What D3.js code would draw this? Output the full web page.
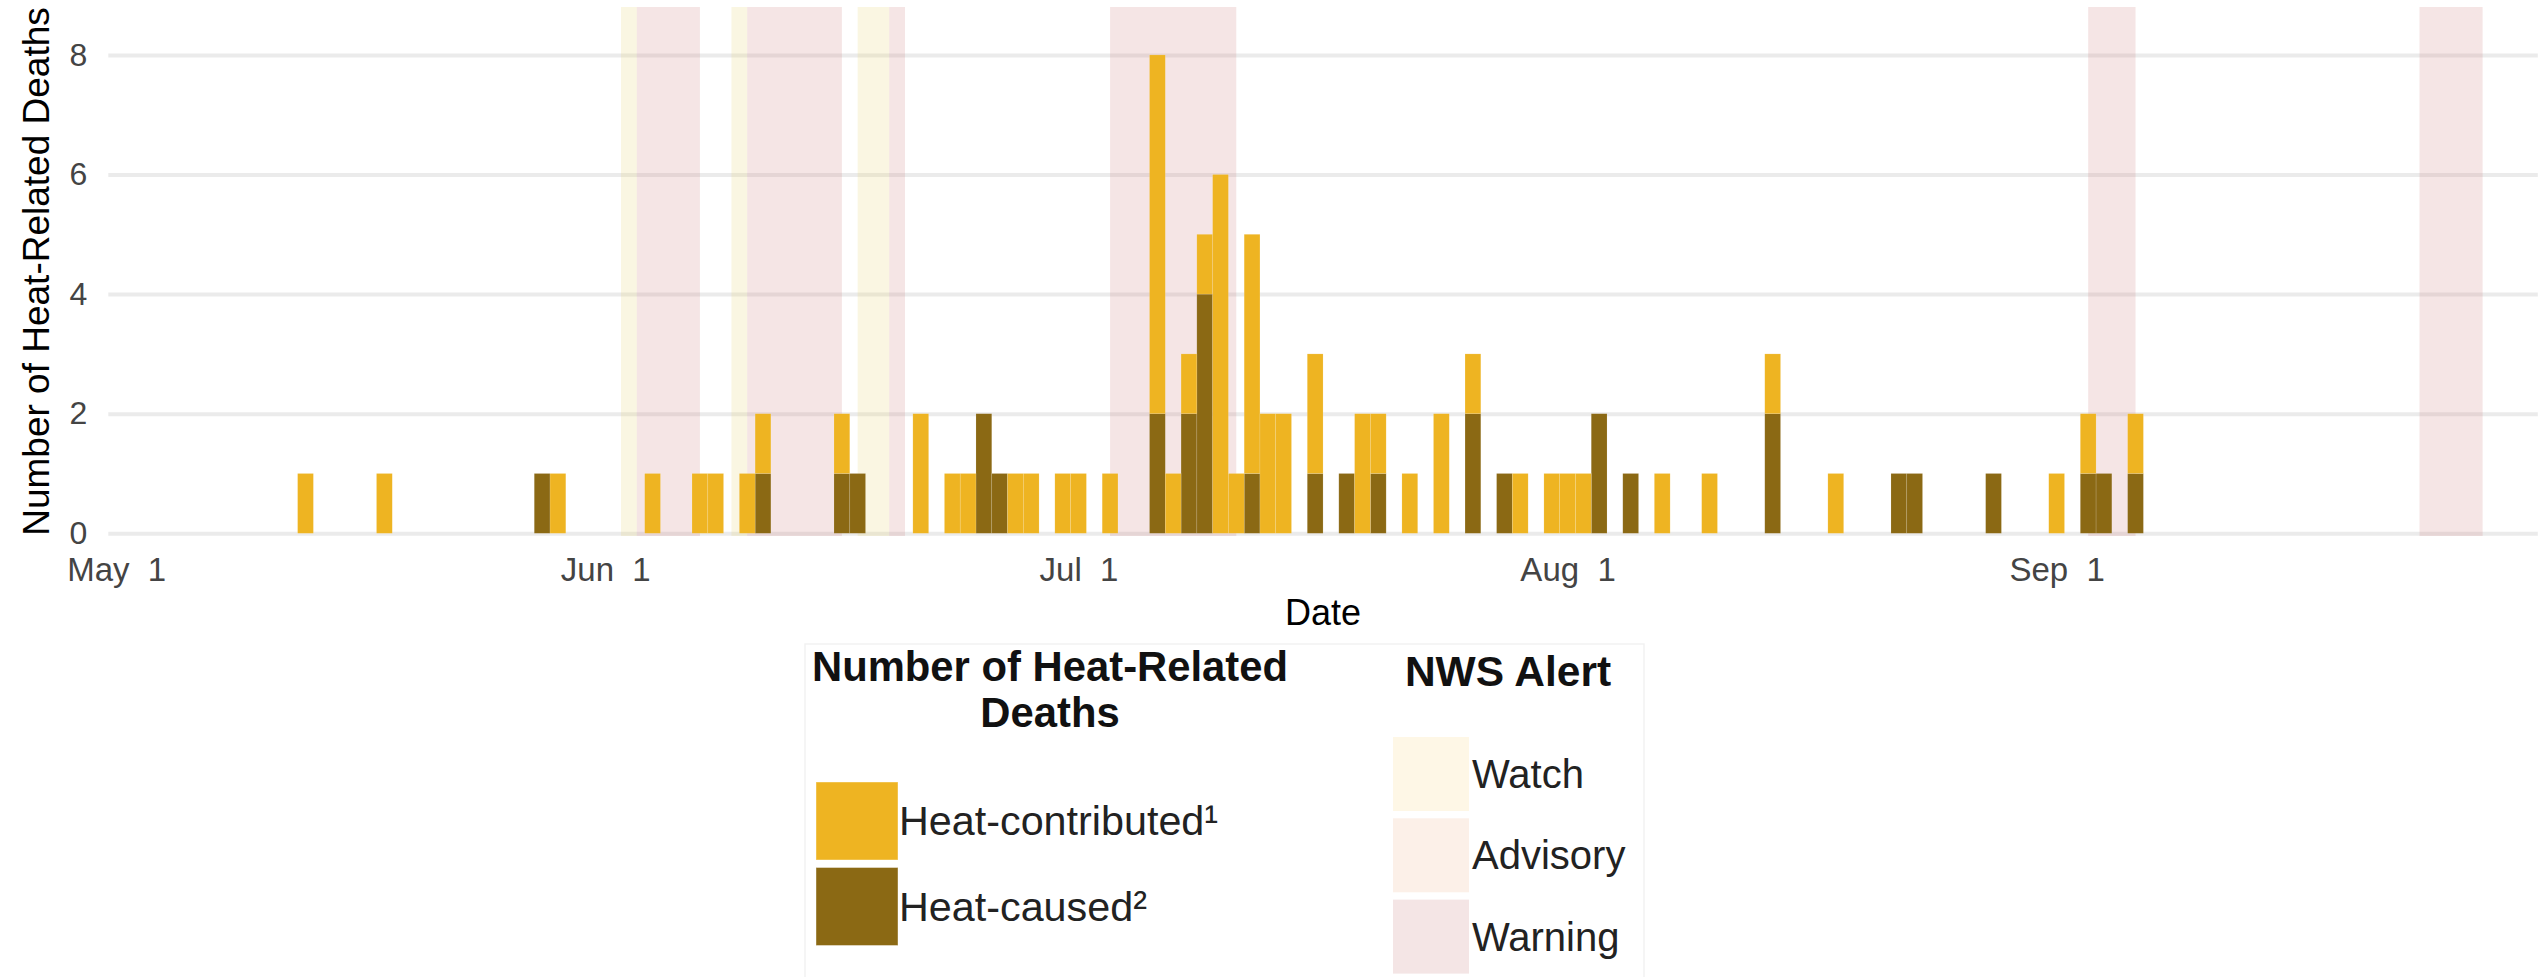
<!DOCTYPE html>
<html>
<head>
<meta charset="utf-8">
<script src="https://cdn.jsdelivr.net/npm/d3@7"></script>
<style>
  body { margin: 0; background: #fff; }
  text { font-family: "Liberation Sans", Arial, sans-serif; }
</style>
</head>
<body>
<script>
// daily heat-related deaths (stacked: caused at bottom, contributed on top)
var dates = ["2023-05-13","2023-05-18","2023-05-28","2023-05-29","2023-06-04","2023-06-07","2023-06-08",
  "2023-06-10","2023-06-11","2023-06-16","2023-06-17","2023-06-21","2023-06-23","2023-06-24","2023-06-25",
  "2023-06-26","2023-06-27","2023-06-28","2023-06-30","2023-07-01","2023-07-03","2023-07-06","2023-07-07",
  "2023-07-08","2023-07-09","2023-07-10","2023-07-11","2023-07-12","2023-07-13","2023-07-14","2023-07-16",
  "2023-07-18","2023-07-19","2023-07-20","2023-07-22","2023-07-24","2023-07-26","2023-07-28","2023-07-29",
  "2023-07-31","2023-08-01","2023-08-02","2023-08-03","2023-08-05","2023-08-07","2023-08-10","2023-08-14",
  "2023-08-18","2023-08-22","2023-08-23","2023-08-28","2023-09-01","2023-09-03","2023-09-04","2023-09-06"];
var caused = [0,0,1,0,0,0,0, 0,1,1,1,0,0,0,2, 1,0,0,0,0,0,2,0, 2,4,0,0,1,0,0,1, 1,0,1,0,0,2,1,0,
  0,0,0,2,1,0,0,2, 0,1,1,1,0,1,1,1];
var contributed = [1,1,0,1,1,1,1, 1,1,1,0,2,1,1,0, 0,1,1,1,1,1,6,1, 1,1,6,1,4,2,2,2, 0,2,1,1,2,1,0,1,
  1,1,1,0,0,1,1,1, 1,0,0,0,1,1,0,1];

// NWS alert periods
var bandStart = ["2023-06-02","2023-06-03","2023-06-09","2023-06-10","2023-06-17","2023-06-19","2023-07-03","2023-09-03","2023-09-24"];
var bandEnd   = ["2023-06-03","2023-06-07","2023-06-10","2023-06-16","2023-06-19","2023-06-20","2023-07-11","2023-09-06","2023-09-28"];
var bandLevel = ["Watch","Warning","Watch","Warning","Watch","Warning","Warning","Warning","Warning"];

var yTicks = [0, 2, 4, 6, 8];
var xTicks = ["2023-05-01","2023-06-01","2023-07-01","2023-08-01","2023-09-01"];

var width = 2539, height = 977;
var plotLeft = 108.3, plotRight = 2537.8, plotTop = 7, plotBottom = 536;
var parse = d3.utcParse("%Y-%m-%d");
var DAY = 864e5;

var x = d3.scaleUtc()
  .domain([new Date(Date.UTC(2023, 3, 30, 12)), new Date(Date.UTC(2023, 9, 1, 12))])
  .range([plotLeft, plotRight]);
var y = d3.scaleLinear().domain([0, 8]).range([533.3, 54.9]);

var bandFill = { Watch: "rgba(232,208,110,0.2)", Advisory: "rgba(240,190,160,0.2)", Warning: "rgba(205,125,125,0.2)" };

var svg = d3.select("body").append("svg")
  .attr("width", width)
  .attr("height", height);

// gridlines + y labels
var yAxis = svg.append("g")
  .attr("transform", "translate(" + plotLeft + ",0)")
  .call(d3.axisLeft(y).tickValues(yTicks).tickSize(-(plotRight - plotLeft)).tickPadding(21));
yAxis.select(".domain").remove();
yAxis.selectAll("line").attr("stroke", "#ebebeb").attr("stroke-width", 4);
yAxis.selectAll("text").attr("font-size", 32).attr("fill", "#444")
  .style("font-family", "'Liberation Sans', Arial, sans-serif");

// alert bands
var bands = bandStart.map(function(s, i) { return { s: parse(s), e: parse(bandEnd[i]), lvl: bandLevel[i] }; });
svg.append("g").selectAll("rect")
  .data(bands)
  .enter()
  .append("rect")
  .attr("x", function(d) { return x(d.s); })
  .attr("width", function(d) { return x(d.e) - x(d.s); })
  .attr("y", plotTop)
  .attr("height", plotBottom - plotTop)
  .attr("fill", function(d) { return bandFill[d.lvl]; });

// bars
var rows = dates.map(function(d, i) { return { date: parse(d), caused: caused[i], contributed: contributed[i] }; });
var stack = d3.stack().keys(["caused", "contributed"])(rows);
var barColor = { caused: "#8b6914", contributed: "#eeb422" };

svg.append("g").selectAll("g")
  .data(stack)
  .enter()
  .append("g")
  .attr("fill", function(s) { return barColor[s.key]; })
  .selectAll("rect")
  .data(function(s) { return s.filter(function(d) { return d[1] > d[0]; }); })
  .enter()
  .append("rect")
  .attr("x", function(d) { return x(new Date(+d.data.date - DAY / 2)); })
  .attr("width", function(d) { return x(new Date(+d.data.date + DAY / 2)) - x(new Date(+d.data.date - DAY / 2)); })
  .attr("y", function(d) { return y(d[1]); })
  .attr("height", function(d) { return y(d[0]) - y(d[1]); })
  .attr("stroke", "rgba(255,255,255,0.22)")
  .attr("stroke-width", 0.6);

// x axis labels ("May  1" style, padded day)
var fmt = d3.utcFormat("%b %e");
var xAxis = svg.append("g")
  .attr("transform", "translate(0," + plotBottom + ")")
  .call(d3.axisBottom(x).tickValues(xTicks.map(parse))
    .tickFormat(function(d) { return fmt(d).replace(/ /g, "\u00a0"); })
    .tickSize(0).tickPadding(22));
xAxis.select(".domain").remove();
xAxis.selectAll("text").attr("font-size", 33).attr("fill", "#444")
  .style("font-family", "'Liberation Sans', Arial, sans-serif");

// axis titles
svg.append("text")
  .attr("x", (plotLeft + plotRight) / 2)
  .attr("y", 625)
  .attr("text-anchor", "middle")
  .attr("font-size", 36)
  .text("Date");

svg.append("text")
  .attr("transform", "translate(49," + (plotTop + plotBottom) / 2 + ") rotate(-90)")
  .attr("text-anchor", "middle")
  .attr("font-size", 37)
  .text("Number of Heat-Related Deaths");

// legend
var lg = svg.append("g");
lg.append("rect")
  .attr("x", 805).attr("y", 644).attr("width", 839).attr("height", 345)
  .attr("fill", "none").attr("stroke", "#f2f2f2").attr("stroke-width", 1.5);

var deathTitle = ["Number of Heat-Related", "Deaths"];
lg.selectAll(".dt")
  .data(deathTitle)
  .enter()
  .append("text")
  .attr("x", 1050)
  .attr("y", function(d, i) { return 681 + i * 46; })
  .attr("text-anchor", "middle")
  .attr("font-size", 41.8)
  .attr("font-weight", "bold")
  .attr("fill", "#111")
  .text(function(d) { return d; });

var deathKeys = ["contributed", "caused"];
var deathLabels = ["Heat-contributed\u00b9", "Heat-caused\u00b2"];
var dItem = lg.selectAll(".di")
  .data(deathKeys)
  .enter()
  .append("g")
  .attr("transform", function(d, i) { return "translate(816," + (782 + i * 85.5) + ")"; });
dItem.append("rect")
  .attr("width", 82).attr("height", 78)
  .attr("fill", function(d) { return barColor[d]; })
  .attr("stroke", "rgba(255,255,255,0.4)");
dItem.append("text")
  .attr("x", 83).attr("y", 39).attr("dy", "0.35em")
  .attr("font-size", 41.3).attr("fill", "#222")
  .text(function(d, i) { return deathLabels[i]; });

lg.append("text")
  .attr("x", 1508).attr("y", 686)
  .attr("text-anchor", "middle")
  .attr("font-size", 42.5).attr("font-weight", "bold").attr("fill", "#111")
  .text("NWS Alert");

var alertLevels = ["Watch", "Advisory", "Warning"];
var alertSwatch = { Watch: "#fef7e6", Advisory: "#fcf0e8", Warning: "#f4e5e5" };
var aItem = lg.selectAll(".ai")
  .data(alertLevels)
  .enter()
  .append("g")
  .attr("transform", function(d, i) { return "translate(1393," + (737 + i * 81.3) + ")"; });
aItem.append("rect")
  .attr("width", 76).attr("height", 74)
  .attr("fill", function(d) { return alertSwatch[d]; });
aItem.append("text")
  .attr("x", 79).attr("y", 37).attr("dy", "0.35em")
  .attr("font-size", 40).attr("fill", "#222")
  .text(function(d) { return d; });
</script>
</body>
</html>
